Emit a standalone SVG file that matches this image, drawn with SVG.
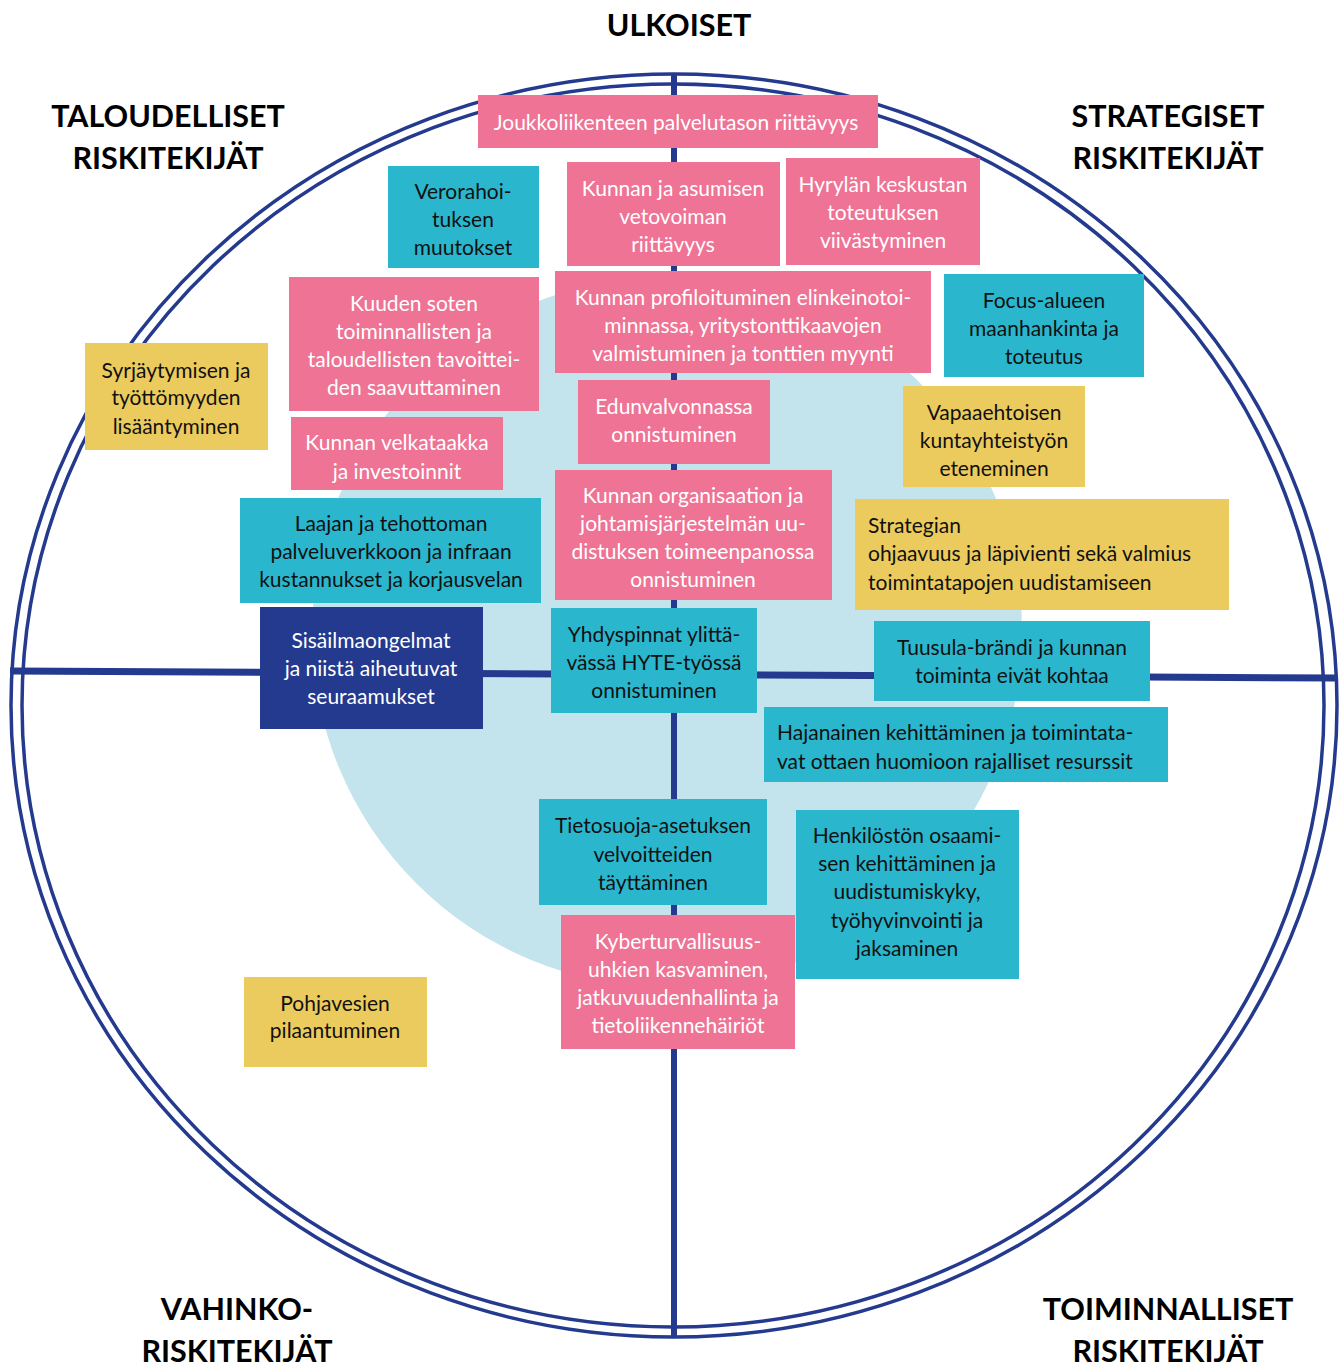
<svg xmlns="http://www.w3.org/2000/svg" width="1344" height="1367" viewBox="0 0 1344 1367">
<style>
.t{font-family:Lato,"Liberation Sans",sans-serif;font-size:21px;text-anchor:middle}
.w{fill:#ffffff}
.k{fill:#111111}
.h{font-family:Lato,"Liberation Sans",sans-serif;font-size:30.5px;font-weight:bold;text-anchor:middle;fill:#000000}
.pink{fill:#EE7394}
.teal{fill:#2AB7CE}
.yel{fill:#ECCB5E}
.navy{fill:#233A8E}
.ring{fill:none;stroke:#233A8E;stroke-width:3.5}
.ax{stroke:#233A8E;fill:none}
</style>
<rect width="1344" height="1367" fill="#ffffff"/>
<circle id="core" cx="667" cy="632" r="355" fill="#C3E4EC"/>
<g id="connectors">
<ellipse class="ring" cx="674" cy="705.5" rx="663" ry="631.5"/>
<ellipse class="ring" cx="673" cy="705.5" rx="651" ry="621.5"/>
<line class="ax" x1="674" y1="74" x2="674" y2="1337" stroke-width="6"/>
<line class="ax" x1="10" y1="671" x2="1337" y2="678" stroke-width="7"/>
</g>
<g id="headings">
<text class="h" x="679" y="36">ULKOISET</text>
<text class="h" x="168" y="127">TALOUDELLISET</text>
<text class="h" x="168" y="169">RISKITEKIJÄT</text>
<text class="h" x="1168" y="127">STRATEGISET</text>
<text class="h" x="1168" y="169">RISKITEKIJÄT</text>
<text class="h" x="237" y="1320">VAHINKO-</text>
<text class="h" x="237" y="1362">RISKITEKIJÄT</text>
<text class="h" x="1168" y="1320">TOIMINNALLISET</text>
<text class="h" x="1168" y="1362">RISKITEKIJÄT</text>
</g>
<g id="n1"><rect class="pink" x="478" y="95" width="400" height="53"/><text class="t w" x="676" y="130">Joukkoliikenteen palvelutason riittävyys</text></g>
<g id="n2"><rect class="teal" x="388" y="166" width="151" height="102"/><text class="t k" x="463" y="199">Verorahoi-</text><text class="t k" x="463" y="227">tuksen</text><text class="t k" x="463" y="255">muutokset</text></g>
<g id="n3"><rect class="pink" x="567" y="162" width="213" height="104"/><text class="t w" x="673" y="196">Kunnan ja asumisen</text><text class="t w" x="673" y="224">vetovoiman</text><text class="t w" x="673" y="252">riittävyys</text></g>
<g id="n4"><rect class="pink" x="786" y="158" width="194" height="107"/><text class="t w" x="883" y="192">Hyrylän keskustan</text><text class="t w" x="883" y="220">toteutuksen</text><text class="t w" x="883" y="248">viivästyminen</text></g>
<g id="n5"><rect class="pink" x="289" y="277" width="250" height="134"/><text class="t w" x="414" y="311">Kuuden soten</text><text class="t w" x="414" y="339">toiminnallisten ja</text><text class="t w" x="414" y="367">taloudellisten tavoittei-</text><text class="t w" x="414" y="395">den saavuttaminen</text></g>
<g id="n6"><rect class="pink" x="555" y="271" width="376" height="102"/><text class="t w" x="743" y="305">Kunnan profiloituminen elinkeinotoi-</text><text class="t w" x="743" y="333">minnassa, yritystonttikaavojen</text><text class="t w" x="743" y="361">valmistuminen ja tonttien myynti</text></g>
<g id="n7"><rect class="teal" x="944" y="274" width="200" height="103"/><text class="t k" x="1044" y="308">Focus-alueen</text><text class="t k" x="1044" y="336">maanhankinta ja</text><text class="t k" x="1044" y="364">toteutus</text></g>
<g id="n8"><rect class="yel" x="85" y="343" width="183" height="107"/><text class="t k" x="176" y="378">Syrjäytymisen ja</text><text class="t k" x="176" y="405">työttömyyden</text><text class="t k" x="176" y="434">lisääntyminen</text></g>
<g id="n9"><rect class="pink" x="291" y="417" width="212" height="73"/><text class="t w" x="397" y="450">Kunnan velkataakka</text><text class="t w" x="397" y="479">ja investoinnit</text></g>
<g id="n10"><rect class="pink" x="578" y="380" width="192" height="84"/><text class="t w" x="674" y="414">Edunvalvonnassa</text><text class="t w" x="674" y="442">onnistuminen</text></g>
<g id="n11"><rect class="yel" x="903" y="386" width="182" height="101"/><text class="t k" x="994" y="420">Vapaaehtoisen</text><text class="t k" x="994" y="448">kuntayhteistyön</text><text class="t k" x="994" y="476">eteneminen</text></g>
<g id="n12"><rect class="teal" x="240" y="498" width="301" height="105"/><text class="t k" x="391" y="531">Laajan ja tehottoman</text><text class="t k" x="391" y="559">palveluverkkoon ja infraan</text><text class="t k" x="391" y="587">kustannukset ja korjausvelan</text></g>
<g id="n13"><rect class="pink" x="555" y="470" width="277" height="130"/><text class="t w" x="693" y="503">Kunnan organisaation ja</text><text class="t w" x="693" y="531">johtamisjärjestelmän uu-</text><text class="t w" x="693" y="559">distuksen toimeenpanossa</text><text class="t w" x="693" y="587">onnistuminen</text></g>
<g id="n14"><rect class="yel" x="855" y="499" width="374" height="111"/><text class="t k" x="868" y="533" style="text-anchor:start">Strategian</text><text class="t k" x="868" y="561" style="text-anchor:start">ohjaavuus ja läpivienti sekä valmius</text><text class="t k" x="868" y="590" style="text-anchor:start">toimintatapojen uudistamiseen</text></g>
<g id="n15"><rect class="navy" x="260" y="607" width="223" height="122"/><text class="t w" x="371" y="648">Sisäilmaongelmat</text><text class="t w" x="371" y="676">ja niistä aiheutuvat</text><text class="t w" x="371" y="704">seuraamukset</text></g>
<g id="n16"><rect class="teal" x="551" y="608" width="206" height="105"/><text class="t k" x="654" y="642">Yhdyspinnat ylittä-</text><text class="t k" x="654" y="670">vässä HYTE-työssä</text><text class="t k" x="654" y="698">onnistuminen</text></g>
<g id="n17"><rect class="teal" x="874" y="621" width="276" height="80"/><text class="t k" x="1012" y="655">Tuusula-brändi ja kunnan</text><text class="t k" x="1012" y="683">toiminta eivät kohtaa</text></g>
<g id="n18"><rect class="teal" x="764" y="707" width="404" height="75"/><text class="t k" x="777" y="740" style="text-anchor:start">Hajanainen kehittäminen ja toimintata-</text><text class="t k" x="777" y="769" style="text-anchor:start">vat ottaen huomioon rajalliset resurssit</text></g>
<g id="n19"><rect class="teal" x="539" y="799" width="228" height="106"/><text class="t k" x="653" y="833">Tietosuoja-asetuksen</text><text class="t k" x="653" y="862">velvoitteiden</text><text class="t k" x="653" y="890">täyttäminen</text></g>
<g id="n20"><rect class="pink" x="561" y="915" width="234" height="134"/><text class="t w" x="678" y="949">Kyberturvallisuus-</text><text class="t w" x="678" y="977">uhkien kasvaminen,</text><text class="t w" x="678" y="1005">jatkuvuudenhallinta ja</text><text class="t w" x="678" y="1033">tietoliikennehäiriöt</text></g>
<g id="n21"><rect class="teal" x="796" y="810" width="223" height="169"/><text class="t k" x="907" y="843">Henkilöstön osaami-</text><text class="t k" x="907" y="871">sen kehittäminen ja</text><text class="t k" x="907" y="899">uudistumiskyky,</text><text class="t k" x="907" y="928">työhyvinvointi ja</text><text class="t k" x="907" y="956">jaksaminen</text></g>
<g id="n22"><rect class="yel" x="244" y="977" width="183" height="90"/><text class="t k" x="335" y="1011">Pohjavesien</text><text class="t k" x="335" y="1038">pilaantuminen</text></g>
</svg>
